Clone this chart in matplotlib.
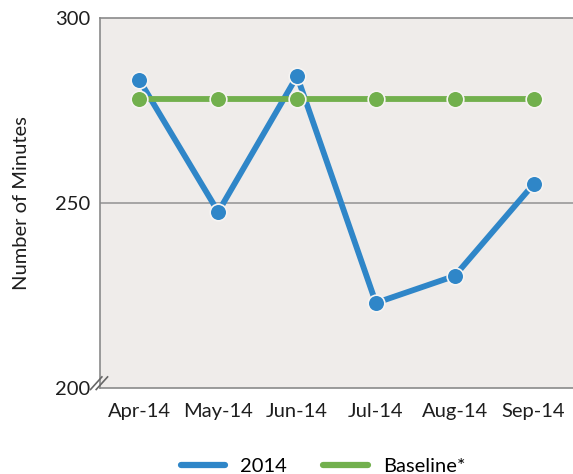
import matplotlib
matplotlib.use("Agg")
import matplotlib.pyplot as plt
from matplotlib.lines import Line2D

plt.rcParams['font.family'] = ['Lato', 'DejaVu Sans']

months = ["Apr-14", "May-14", "Jun-14", "Jul-14", "Aug-14", "Sep-14"]
minutes_2014 = [283.2, 247.6, 284.3, 223.0, 230.3, 255.1]
baseline = [278.1, 278.1, 278.1, 278.1, 278.1, 278.1]
y_ticks = [200, 250, 300]

blue = "#2f86c8"
green = "#72b04d"
bg = "#efecea"
axis_gray = "#8a8a8a"
text_color = "#1e1e1e"

fig = plt.figure(figsize=(5.73, 4.74), dpi=100)
ax = fig.add_axes([0.1745, 0.1814, 0.8255, 0.7806])
ax.set_facecolor(bg)

x = list(range(len(months)))
ax.plot(x, minutes_2014, color=blue, lw=4.2, marker="o", ms=12,
        mfc=blue, mec="#f6f4f2", mew=1.2, zorder=3, solid_capstyle="butt")
ax.plot(x, baseline, color=green, lw=4.2, marker="o", ms=12,
        mfc=green, mec="#f6f4f2", mew=1.2, zorder=4, solid_capstyle="butt")

ax.set_xlim(-0.5, 5.5)
ax.set_ylim(200, 300)
ax.set_yticks(y_ticks)
ax.set_xticks(x)
ax.set_xticklabels(months)
ax.tick_params(axis="both", length=0, labelsize=14.5, colors=text_color)
ax.tick_params(axis="x", pad=11)
ax.tick_params(axis="y", pad=7)
ax.axhline(250, color="#999999", lw=1.2, zorder=1)

for side in ["left", "bottom", "top"]:
    ax.spines[side].set_color(axis_gray)
    ax.spines[side].set_linewidth(1.2)
ax.spines["right"].set_visible(False)

ax.set_ylabel("Number of Minutes", fontsize=14.5, color=text_color, labelpad=18)

# axis break marks at the origin
for dx in (-0.008, 0.004):
    ax.plot([dx - 0.012, dx + 0.012], [-0.004, 0.030], transform=ax.transAxes,
            color="#666666", lw=1.2, clip_on=False, zorder=5)

handles = [Line2D([], [], color=blue, lw=4.5, solid_capstyle="round"),
           Line2D([], [], color=green, lw=4.5, solid_capstyle="round")]
fig.legend(handles, ["2014", "Baseline*"], loc="lower center", ncol=2,
           frameon=False, fontsize=14.5, bbox_to_anchor=(0.564, -0.04),
           handlelength=2.2, columnspacing=1.8, handletextpad=0.75)

fig.savefig("out.png", dpi=100)
